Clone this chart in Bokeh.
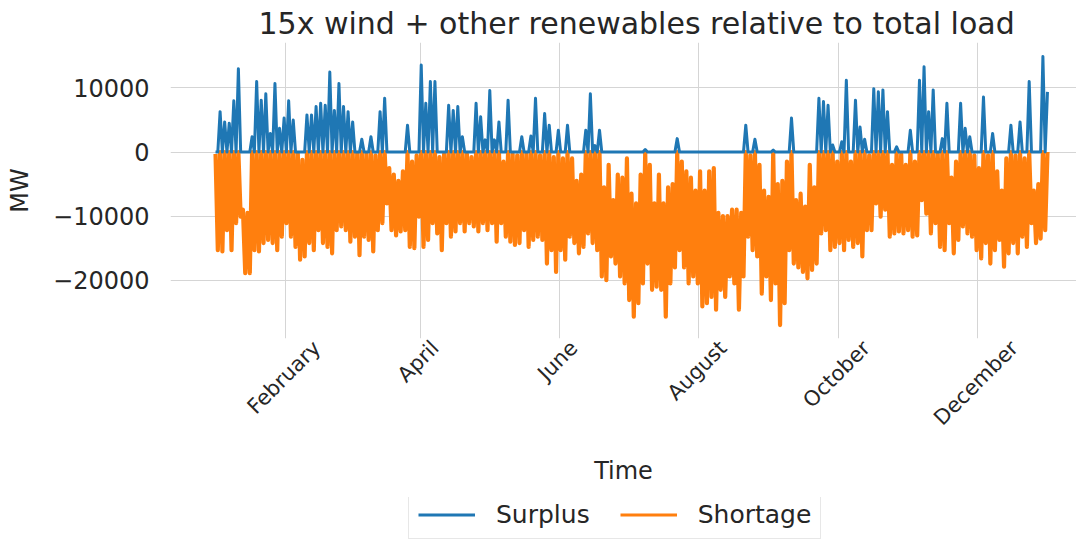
import math
import numpy as np
import pandas as pd
from bokeh.plotting import figure
from bokeh.layouts import column
from bokeh.models import (FixedTicker, DatetimeTickFormatter, Legend, LegendItem,
                          ColumnDataSource, Range1d)
from bokeh.embed import file_html
from bokeh.resources import INLINE

# ---------------- data (MW) ----------------
days = pd.date_range("2015-01-01 12:00", periods=365, freq="D")
net_balance = [
    -300, -15300, 6300, -15500, 4700, -12200, 4500, -15300, 8000, -11100,
    13000, -10100, -9000, -18900, -9500, -18900, 2400, -15300, 11000, -15500,
    8100, -14200, 9100, -13700, 2900, -14200, 10700, -15300, 3700, -13200,
    5300, -11100, 8000, -13200, 5000, -14800, -200, -16800, -1200, -16300,
    5800, -14200, 5800, -15300, 7100, -12200, 7600, -14200, 7300, -14800,
    12500, -15800, 6500, -12200, 10700, -11600, 7100, -12200, 6300, -14000,
    4700, -13200, -200, -16100, 2000, -13200, -300, -13700, 2400, -15500,
    -500, -12200, 6300, -11100, 8400, -8000, -2500, -12200, -3500, -13000,
    -4500, -12400, -3000, -12200, 4200, -14800, -1500, -15000, -500, -10100,
    13600, -14800, 7600, -13700, 11000, -11100, 11000, -12700, -800, -15300,
    -300, -11100, 7300, -13200, 6500, -12400, 7100, -11100, 2400, -12400,
    -300, -11100, -800, -11600, 7600, -12400, 5500, -11100, 1900, -12200,
    9600, -11100, 1900, -14000, 4700, -11100, -1500, -13200, 8100, -14000,
    -300, -14500, -500, -14200, 2400, -12200, -300, -14800, 2500, -13700,
    8400, -13200, -500, -13700, 6000, -17400, 4200, -15300, -800, -18700,
    3400, -15300, -1000, -16800, 4200, -13200, -1000, -14200, -4500, -15800,
    -3500, -14800, 3400, -12700, 9100, -14200, 1000, -15300, 3400, -19400,
    -5500, -20000, -2000, -16300, -7500, -17400, -3500, -19400, -4000, -20500,
    -1000, -23100, -6500, -25700, -8000, -23600, -3500, -20500, 400, -17400,
    -2000, -21500, -8000, -21000, -3500, -21500, -8000, -25700, -5500, -20500,
    -5000, -18000, 2100, -15300, -1500, -18000, -3000, -20500, -4000, -19400,
    -6000, -20500, -3000, -24100, -6000, -23600, -3000, -22600, -2500, -24600,
    -9500, -21500, -10000, -22600, -10000, -19400, -9000, -20500, -9000, -24600,
    -9500, -19400, 4200, -13200, -500, -15300, 2000, -16300, -2000, -22100,
    -6000, -19400, -7000, -23100, 300, -20500, -5000, -27000, -4500, -23600,
    -1500, -15300, 5300, -17400, -7500, -18000, -6500, -18700, -8500, -19700,
    -2000, -18400, -5500, -17400, 8400, -12700, 7900, -12200, 7300, -15300,
    1100, -14800, -1500, -14200, 1600, -15300, 11200, -13700, -1500, -14800,
    8100, -14200, 3900, -16300, 2000, -12200, -500, -12200, 9900, -8000,
    9400, -10100, 9700, -9000, 6300, -13200, -2000, -12700, 800, -12400,
    -300, -12700, -2000, -12200, 3400, -13200, -1500, -13000, 11200, -7500,
    13300, -9600, 6300, -12700, 9700, -11100, -300, -14800, 2100, -15300,
    7600, -11100, -4000, -15800, -1500, -13700, 7600, -11600, 3700, -12700,
    2400, -13200, -500, -15300, -2500, -16600, 8600, -14200, -500, -17400,
    2900, -15300, -3000, -13700, -6000, -17900, -1000, -15800, 4200, -14200,
    -500, -15800, 4700, -13200, -1000, -14800, 11000, -11100, -6000, -14200,
    -5000, -13500, 14900, -12200, 9400,
]
surplus = np.clip(np.array(net_balance, dtype=float), 0, None)
shortage = np.clip(np.array(net_balance, dtype=float), None, 0)

month_ticks = ["2015-02-01", "2015-04-01", "2015-06-01", "2015-08-01",
               "2015-10-01", "2015-12-01"]
month_labels = ["February", "April", "June", "August", "October", "December"]
y_ticks = [-20000, -10000, 0, 10000]
y_tick_labels = ["\u221220000", "\u221210000", "0", "10000"]

title_text = "15x wind + other renewables relative to total load"
series_names = ["Surplus", "Shortage"]
colors = ["#1f77b4", "#ff7f0e"]

# ---------------- layout helpers ----------------
FONT = "DejaVu Sans"
FRAME_W = 906
FRAME_H = 296
LEFT = 170
TOTAL_W = LEFT + FRAME_W
XTICK_FS = 21
x_start = pd.Timestamp("2015-01-01") - pd.Timedelta(days=19.2)
x_end = pd.Timestamp("2015-01-01") + pd.Timedelta(days=377.2)
px_per_ms = FRAME_W / ((x_end - x_start).value / 1e6)

# DejaVu Sans advance widths (em) to centre rotated month labels on their ticks
ADV = {'F': .575, 'e': .615, 'b': .635, 'r': .411, 'u': .634, 'a': .613,
       'y': .592, 'A': .684, 'p': .635, 'i': .278, 'l': .278, 'J': .295,
       'n': .634, 'g': .635, 's': .521, 't': .392, 'O': .787, 'c': .550,
       'o': .612, 'D': .770, 'm': .974}

def label_shift_ms(lbl):
    em = sum(ADV.get(ch, 0.6) for ch in lbl)
    shift_px = 0.3536 * (em * XTICK_FS + 12) - 6
    return shift_px / px_per_ms

tick_ms = [pd.Timestamp(s).value // 10**6 for s in month_ticks]
label_pos_ms = [t + label_shift_ms(l) for t, l in zip(tick_ms, month_labels)]

# ---------------- main figure ----------------
p = figure(x_axis_type="datetime", output_backend="svg", toolbar_location=None,
           frame_width=FRAME_W, frame_height=FRAME_H,
           x_range=Range1d(x_start, x_end), y_range=Range1d(-29100, 17100),
           min_border_left=LEFT, min_border_right=0, min_border_top=42,
           min_border_bottom=159, background_fill_color="white",
           border_fill_color="white")
p.outline_line_color = None

p.title.text = title_text
p.title.align = "left"
p.title.offset = 88
p.title.text_font = FONT
p.title.text_font_size = "30px"
p.title.text_font_style = "normal"
p.title.text_color = "#262626"
p.title.standoff = 3

src = ColumnDataSource(dict(t=days, surplus=surplus, shortage=shortage))
p.line("t", "shortage", source=src, line_color=colors[1], line_width=4.2,
       line_join="round")
p.line("t", "surplus", source=src, line_color=colors[0], line_width=3,
       line_join="round")

p.xaxis.ticker = FixedTicker(ticks=label_pos_ms)
p.xgrid[0].ticker = FixedTicker(ticks=tick_ms)
p.xaxis.formatter = DatetimeTickFormatter(months="%B", days="%B", hours="%B",
                                          years="%B", hourmin="%B", minutes="%B")
p.yaxis.ticker = FixedTicker(ticks=y_ticks)
p.yaxis.major_label_overrides = {v: s for v, s in zip(y_ticks, y_tick_labels)}

for ax in (p.xaxis[0], p.yaxis[0]):
    ax.axis_line_color = None
    ax.major_tick_line_color = None
    ax.minor_tick_line_color = None
    ax.major_tick_out = 0
    ax.major_tick_in = 0
    ax.major_label_text_font = FONT
    ax.major_label_text_color = "#262626"
    ax.axis_label_text_font = FONT
    ax.axis_label_text_font_size = "24px"
    ax.axis_label_text_font_style = "normal"
    ax.axis_label_text_color = "#262626"

p.xaxis.major_label_text_font_size = f"{XTICK_FS}px"
p.yaxis.major_label_text_font_size = "24px"
p.xaxis.major_label_orientation = math.pi / 4
p.xaxis.major_label_standoff = 6
p.xaxis.axis_label = "Time"
p.xaxis.axis_label_standoff = 16
p.yaxis.major_label_standoff = 21
p.yaxis.axis_label = "MW"
p.yaxis.axis_label_standoff = 16

for g in (p.xgrid[0], p.ygrid[0]):
    g.grid_line_color = "#d5d5d5"
    g.grid_line_width = 1

# ---------------- legend strip below ----------------
leg = figure(output_backend="svg", toolbar_location=None, width=TOTAL_W,
             height=45, x_range=Range1d(0, 1), y_range=Range1d(0, 1),
             min_border_left=0, min_border_right=0, min_border_top=0,
             min_border_bottom=0, background_fill_color="white",
             border_fill_color="white")
leg.outline_line_color = None
leg.axis.visible = False
leg.grid.visible = False
# legend-only renderers: their points lie outside the strip's visible range
l1 = leg.line(x=[5, 6], y=[5, 6], line_color=colors[0], line_width=3)
l2 = leg.line(x=[5, 6], y=[5, 6], line_color=colors[1], line_width=3)

legend = Legend(items=[LegendItem(label=series_names[0], renderers=[l1]),
                       LegendItem(label=series_names[1], renderers=[l2])],
                orientation="horizontal", location=(238, 3))
legend.label_text_font = FONT
legend.label_text_font_size = "25px"
legend.label_text_color = "#262626"
legend.label_height = 23
legend.glyph_width = 57
legend.glyph_height = 23
legend.label_standoff = 21
legend.spacing = 30
legend.padding = 9
legend.margin = 0
legend.border_line_color = "#d0d0d0"
legend.border_line_width = 1
legend.background_fill_color = "white"
leg.add_layout(legend, "center")

layout = column(p, leg, spacing=0)
open("out.html", "w").write(file_html(layout, INLINE))
